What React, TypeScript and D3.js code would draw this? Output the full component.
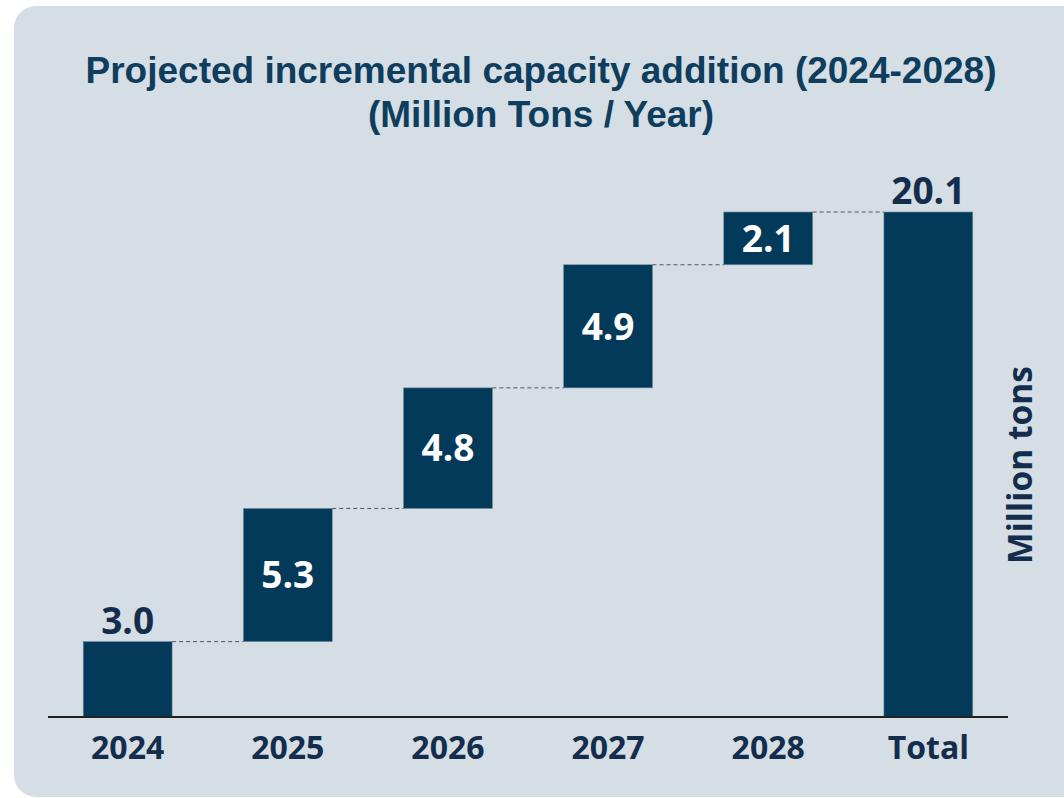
import React from "react";
import * as d3 from "d3";

const categories = ["2024", "2025", "2026", "2027", "2028", "Total"];
const increments = [3.0, 5.3, 4.8, 4.9, 2.1];
const total = 20.1;
const labels = ["3.0", "5.3", "4.8", "4.9", "2.1", "20.1"];
const titleLines = ["Projected incremental capacity addition (2024-2028)", "(Million Tons / Year)"];
const axisTitle = "Million tons";

const W = 1064;
const H = 798;
const BAR = "#033a5a";
const DARK = "#142d4c";
const TITLE = "#0e3d5e";

export default function App() {
  const x = d3.scaleBand().domain(categories).range([48, 1008]).paddingInner(0.445).paddingOuter(0.22);
  const y = d3.scaleLinear().domain([0, 20.1]).range([717, 212]);

  let run = 0;
  const bars = categories.map((c, i) => {
    if (i < increments.length) {
      const start = run;
      run += increments[i];
      return { c, start, end: run, label: labels[i], total: false };
    }
    return { c, start: 0, end: total, label: labels[i], total: true };
  });

  const bw = x.bandwidth();
  return (
    <svg width={W} height={H} style={{ position: "absolute", left: 0, top: 0 }}>
      <rect x={14} y={6} width={W + 40} height={791} rx={22} ry={22} fill="#d5dee4" />
      {titleLines.map((t, i) => (
        <text key={i} x={541} y={83 + i * 44} textAnchor="middle" fontFamily="'Liberation Sans', Arial, sans-serif" fontWeight="bold" fontSize={37} fill={TITLE}>
          {t}
        </text>
      ))}
      {bars.map((b, i) => {
        const x0 = x(b.c)!;
        const yTop = y(b.end);
        const yBot = y(b.start);
        const next = bars[i + 1];
        const firstOrTotal = i === 0 || b.total;
        return (
          <g key={b.c}>
            <rect x={x0} y={yTop} width={bw} height={yBot - yTop} fill={BAR} stroke="#6f8ca0" strokeWidth={0.6} />
            {next && (
              <line x1={x0 + bw} x2={x(next.c)!} y1={yTop} y2={yTop} stroke="#555" strokeWidth={1} strokeDasharray="4,3" />
            )}
            {firstOrTotal ? (
              <text x={x0 + bw / 2} y={yTop - 8} textAnchor="middle" fontFamily="'Open Sans', sans-serif" fontWeight="bold" fontSize={37} fill={DARK}>
                {b.label}
              </text>
            ) : (
              <text x={x0 + bw / 2} y={(yTop + yBot) / 2} dy="0.36em" textAnchor="middle" fontFamily="'Open Sans', sans-serif" fontWeight="bold" fontSize={37} fill="#ffffff">
                {b.label}
              </text>
            )}
            <text x={x0 + bw / 2} y={759} textAnchor="middle" fontFamily="'Open Sans', sans-serif" fontWeight="bold" fontSize={32} fill={DARK}>
              {b.c}
            </text>
          </g>
        );
      })}
      <line x1={48} x2={1008} y1={717} y2={717} stroke="#222" strokeWidth={2} />
      <text transform="translate(1032,465) rotate(-90)" textAnchor="middle" fontFamily="'Open Sans', sans-serif" fontWeight="bold" fontSize={33.5} fill={DARK}>
        {axisTitle}
      </text>
    </svg>
  );
}
